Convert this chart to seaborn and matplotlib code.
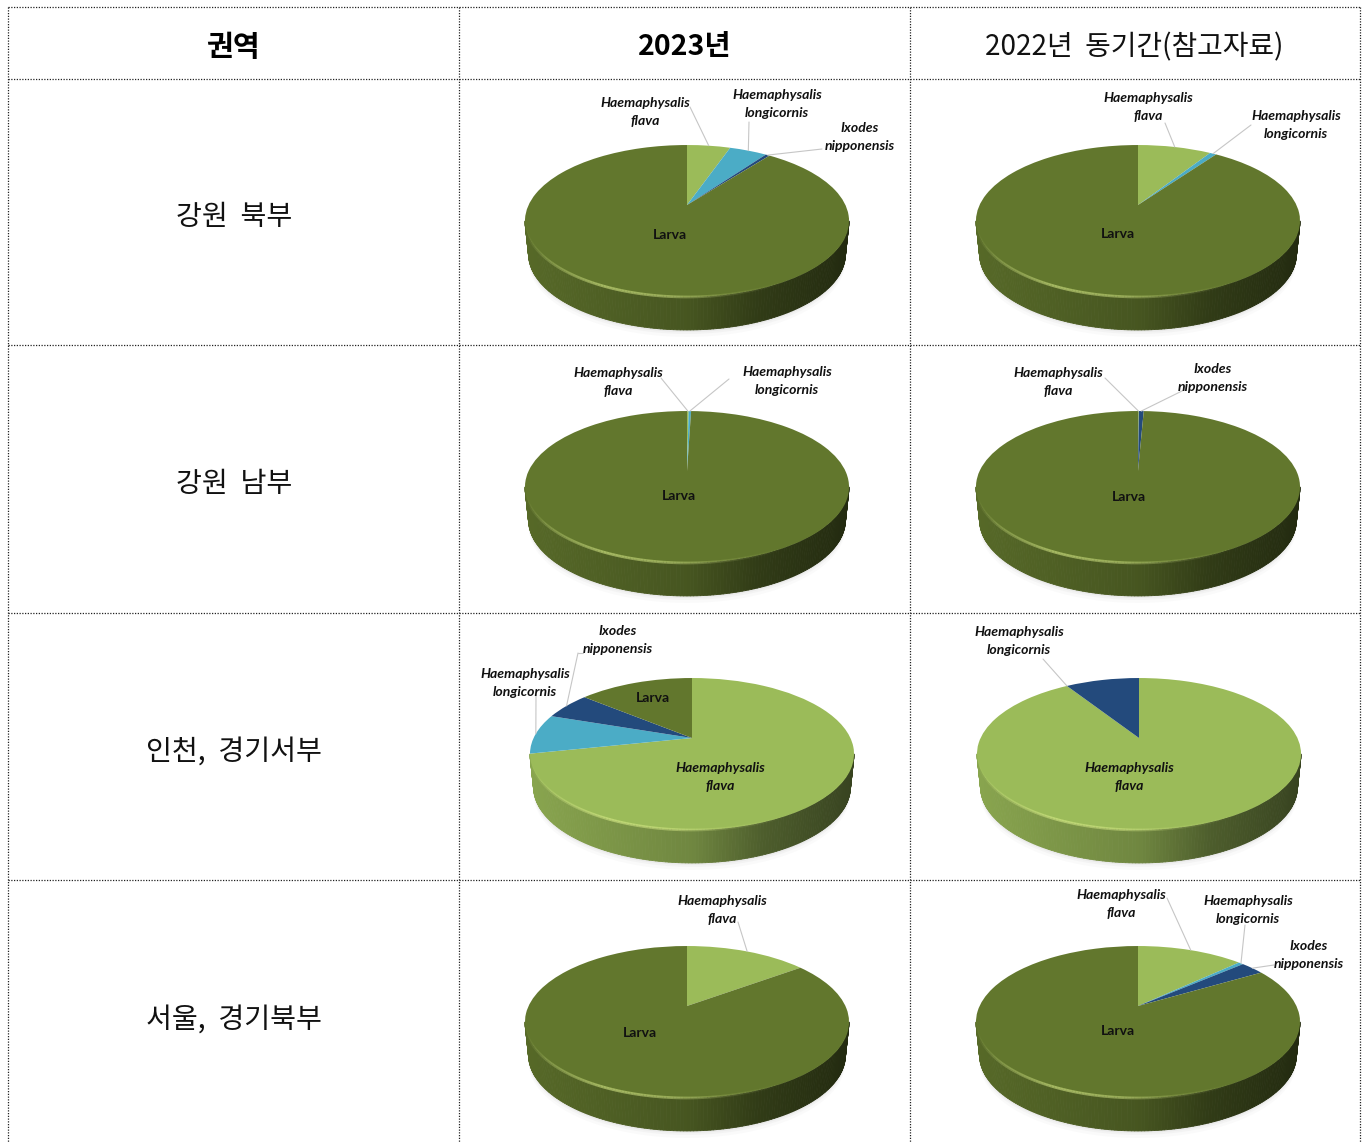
import numpy as np
import matplotlib
matplotlib.use("Agg")
import matplotlib.pyplot as plt
from matplotlib.transforms import Transform
from matplotlib.collections import PolyCollection, LineCollection
import seaborn as sns

sns.set_theme(style="white")
plt.rcParams['font.family'] = ['Noto Sans CJK KR', 'DejaVu Sans']

# ---------- data (percent shares, clockwise from 12 o'clock) ----------
HF, HL, IN, LV = "flava", "longi", "ixodes", "larva"
regions = ["강원  북부", "강원  남부", "인천,  경기서부", "서울,  경기북부"]
headers = ["권역", "2023년", "2022년  동기간(참고자료)"]

r1_2023 = [5.3, 4.6, 0.5, 89.6]
r1_2022 = [9.0, 0.8, 90.2]
r2_2023 = [0.2, 0.3, 99.5]
r2_2022 = [0.1, 0.6, 99.3]
r3_2023 = [71.7, 8.5, 5.8, 14.0]
r3_2022 = [91.0, 9.0]
r4_2023 = [14.9, 85.1]
r4_2022 = [13.0, 0.6, 2.9, 83.5]

s1_2023 = [HF, HL, IN, LV]
s1_2022 = [HF, HL, LV]
s2_2023 = [HF, HL, LV]
s2_2022 = [HF, IN, LV]
s3_2023 = [HF, HL, IN, LV]
s3_2022 = [HF, IN]
s4_2023 = [HF, LV]
s4_2022 = [HF, HL, IN, LV]

names = {HF: "Haemaphysalis\nflava", HL: "Haemaphysalis\nlongicornis",
         IN: "Ixodes\nnipponensis", LV: "Larva"}

colors = {HF: "#9BBB59", HL: "#4BACC6", IN: "#234A7C", LV: "#62772D"}

# ---------- layout ----------
W, H = 1367, 1142
KP, KB, KA = 0.2105, 72.6, 158.4      # perspective of the tilted disc
DEPTH = 33
BOTTOM_SCALE = 0.978
LABEL_FONT = ["Lato", "DejaVu Sans"]
LEADER = dict(color="#C6C6C6", lw=0.8, zorder=5)


class Persp(Transform):
    input_dims = output_dims = 2
    is_separable = False
    has_inverse = False

    def __init__(self, cx, ay):
        super().__init__()
        self.cx, self.ay = cx, ay

    def transform_non_affine(self, xy):
        xy = np.asarray(xy, float)
        d = 1 + KP * xy[..., 1]
        return np.stack([self.cx + KA * xy[..., 0] / d,
                         self.ay - KB * xy[..., 1] / d], axis=-1)


fig = plt.figure(figsize=(W / 100, H / 100), dpi=100)
ax = fig.add_axes([0, 0, 1, 1])

shade_pos = [0.0, 0.25, 0.5, 0.72, 1.0]
shade_val = [0.88, 0.80, 0.72, 0.50, 0.36]
rim_pos = [0.0, 0.08, 0.25, 0.45, 0.62, 0.8, 1.0]
rim_val = [0.0, 0.25, 0.55, 0.45, 0.15, 0.0, 0.0]
rim_light = sns.blend_palette(["#DDF08C", "#DDF08C"], 2)[0]


def draw_pie(cx, ay, values, species, leaders, corner=()):
    p = Persp(cx, ay)
    cols = [colors[s] for s in species]
    edges = np.cumsum([0] + list(values)) / np.sum(values) * 360
    mids = (edges[:-1] + edges[1:]) / 2
    th0 = np.degrees(np.arccos(-KP))
    th = np.linspace(th0, 360 - th0, 161)
    pts = p.transform_non_affine(np.c_[np.sin(np.radians(th)), np.cos(np.radians(th))])
    low = np.c_[cx + (pts[:, 0] - cx) * BOTTOM_SCALE, pts[:, 1] + DEPTH]
    xleft, xright = pts[:, 0].min(), pts[:, 0].max()

    # soft shadow beneath the wall
    for grow, a in [(7, .035), (4, .05), (2, .07)]:
        ax.fill(np.r_[low[:, 0], low[::-1, 0]],
                np.r_[low[:, 1] + grow, low[::-1, 1] - 20],
                color="#808080", alpha=a, lw=0, zorder=1)

    # side wall
    polys, fcs = [], []
    for i in range(len(th) - 1):
        q = (pts[i] + pts[i + 1]) / 2
        f = (q[0] - xleft) / (xright - xleft)
        tm = (th[i] + th[i + 1]) / 2
        j = min(np.searchsorted(edges, tm) - 1, len(cols) - 1)
        rgb = np.array(matplotlib.colors.to_rgb(cols[j])) * np.interp(f, shade_pos, shade_val)
        polys.append([pts[i], pts[i + 1], low[i + 1], low[i]])
        fcs.append(rgb)
    ax.add_collection(PolyCollection(polys, facecolors=fcs, edgecolors=fcs, linewidths=0.6, zorder=2))

    # top surface
    ax.pie(values, colors=cols, startangle=90, counterclock=False, radius=1,
           wedgeprops={"transform": p + ax.transData, "linewidth": 0, "zorder": 3})

    # highlighted front rim
    segs = [[pts[i], pts[i + 1]] for i in range(len(pts) - 1)]
    rc = []
    for i in range(len(pts) - 1):
        f = (pts[i, 0] - xleft) / (xright - xleft)
        rc.append((*rim_light, np.interp(f, rim_pos, rim_val)))
    ax.add_collection(LineCollection(segs, colors=rc, linewidths=2.0, zorder=4))

    # leaders
    for idx, (lx, ly) in leaders.items():
        t = np.radians(edges[idx] if idx in corner else mids[idx])
        rim = p.transform_non_affine(np.array([np.sin(t), np.cos(t)]))
        ax.plot([lx, rim[0]], [ly, rim[1]], **LEADER)


def label(x, y, s, italic=True):
    ax.text(x, y, s, ha="center", va="center", family=LABEL_FONT, fontsize=10.1,
            fontweight="bold", style="italic" if italic else "normal",
            color="#111111", linespacing=1.62, zorder=6)


R_Y = [205, 471, 738, 1006]
C2 = 687
C3 = 1138

draw_pie(C2, R_Y[0], r1_2023, s1_2023, {0: (690, 107), 1: (749, 122), 2: (822, 149)})
label(645, 112, names[HF]); label(777, 104, names[HL]); label(860, 137, names[IN])
label(670, 235, names[LV], False)

draw_pie(C3, R_Y[0], r1_2022, s1_2022, {0: (1165, 123), 1: (1251, 125)})
label(1148, 107, names[HF]); label(1296, 125, names[HL]); label(1118, 234, names[LV], False)

draw_pie(C2, R_Y[1], r2_2023, s2_2023, {0: (661, 378), 1: (729, 379)})
label(618, 382, names[HF]); label(787, 381, names[HL]); label(679, 496, names[LV], False)

draw_pie(C3, R_Y[1], r2_2022, s2_2022, {0: (1105, 378), 1: (1184, 390)})
label(1058, 382, names[HF]); label(1213, 378, names[IN]); label(1129, 497, names[LV], False)

draw_pie(692, R_Y[2], r3_2023, s3_2023, {1: (536, 695), 2: (578, 653)})
ax.plot([578, 583], [653, 653], **LEADER)
label(618, 640, names[IN]); label(525, 683, names[HL])
label(653, 698, names[LV], False); label(720, 777, names[HF])

draw_pie(1139, R_Y[2], r3_2022, s3_2022, {1: (1043, 659)}, corner=(1,))
label(1019, 641, names[HL]); label(1129, 777, names[HF])

draw_pie(C2, R_Y[3], r4_2023, s4_2023, {0: (738, 922)})
label(722, 910, names[HF]); label(640, 1033, names[LV], False)

draw_pie(C3, R_Y[3], r4_2022, s4_2022, {0: (1167, 898), 1: (1245, 925), 2: (1274, 965)})
label(1121, 904, names[HF]); label(1248, 910, names[HL]); label(1309, 955, names[IN])
label(1118, 1031, names[LV], False)

# ---------- table grid ----------
dot = dict(color="#222222", lw=0.9, linestyle=(0, (1, 1.2)), zorder=7)
for y in [7, 79, 345, 613, 880]:
    ax.plot([8, 1360], [y, y], **dot)
for x in [8, 459, 910, 1360]:
    ax.plot([x, x], [7, H], **dot)

# ---------- table text ----------
ax.text(233, 47, headers[0], ha="center", va="center", fontsize=21, fontweight="bold", color="black")
ax.text(685, 47, headers[1], ha="center", va="center", fontsize=20.5, fontweight="bold", color="black")
ax.text(1134, 47, headers[2], ha="center", va="center", fontsize=20.1, color="#111111")
for y, r in zip([217, 484, 752, 1020], regions):
    ax.text(234, y, r, ha="center", va="center", fontsize=20.3, color="#111111")

ax.set_aspect("auto")
ax.set_xlim(0, W)
ax.set_ylim(H, 0)
ax.set_xticks([]); ax.set_yticks([])
sns.despine(ax=ax, left=True, bottom=True)
ax.set_frame_on(False)
fig.savefig("out.png", dpi=100, facecolor="white")
